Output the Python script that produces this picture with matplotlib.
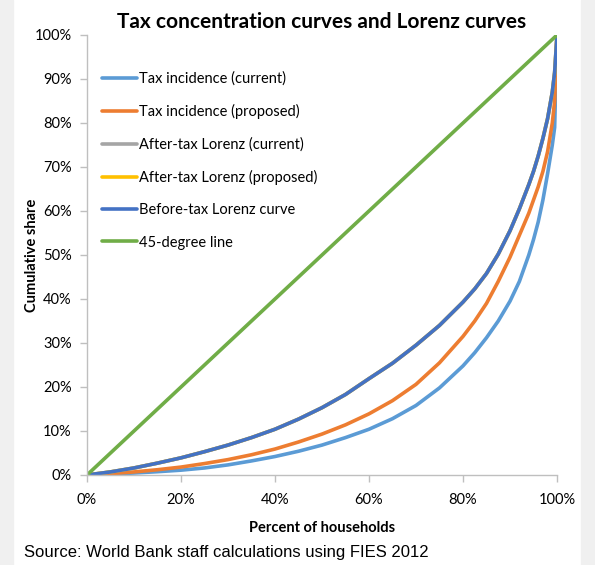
import matplotlib
matplotlib.use("Agg")
import matplotlib.pyplot as plt
from matplotlib.ticker import FuncFormatter

plt.rcParams['font.family'] = ['Lato', 'DejaVu Sans']

# Data (percent of households vs cumulative share, %)
x_pct = [0, 5, 10, 15, 20, 25, 30, 35, 40, 45, 50, 55, 60, 65, 70, 75, 80, 82.5, 85, 87.5,
         90, 92, 94, 95, 96, 97, 98, 99, 99.5, 100]
tax_current = [0, 0.2, 0.45, 0.75, 1.1, 1.6, 2.3, 3.2, 4.2, 5.4, 6.8, 8.5, 10.4, 12.8, 15.8, 19.8,
               24.8, 27.8, 31.2, 35.0, 39.5, 44.0, 50.0, 53.5, 57.5, 62.5, 68.5, 75.0, 79.0, 100]
tax_proposed = [0, 0.3, 0.7, 1.2, 1.8, 2.6, 3.5, 4.6, 5.9, 7.5, 9.3, 11.4, 13.9, 16.9, 20.6, 25.5,
                31.5, 35.0, 39.0, 44.0, 49.5, 54.5, 59.5, 62.5, 65.5, 69.0, 73.5, 80.0, 85.0, 100]
after_current = [0, 0.7, 1.6, 2.7, 3.9, 5.3, 6.8, 8.5, 10.4, 12.7, 15.3, 18.3, 21.9, 25.4, 29.5, 34.0,
                 39.3, 42.3, 45.8, 50.2, 55.5, 60.5, 66.0, 69.0, 72.5, 76.5, 81.0, 87.0, 91.5, 100]
after_proposed = [0, 0.7, 1.6, 2.7, 3.9, 5.3, 6.8, 8.5, 10.4, 12.7, 15.3, 18.3, 21.9, 25.4, 29.5, 34.0,
                  39.3, 42.3, 45.8, 50.2, 55.5, 60.5, 66.0, 69.0, 72.5, 76.5, 81.0, 87.0, 91.5, 100]
before_tax = [0, 0.7, 1.6, 2.7, 3.9, 5.3, 6.8, 8.5, 10.4, 12.7, 15.3, 18.3, 21.9, 25.4, 29.5, 34.0,
              39.3, 42.3, 45.8, 50.2, 55.5, 60.5, 66.0, 69.0, 72.5, 76.5, 81.0, 87.0, 91.5, 100]
diag_x = [0, 100]
diag_y = [0, 100]

labels = ["Tax incidence (current)", "Tax incidence (proposed)",
          "After-tax Lorenz (current)", "After-tax Lorenz (proposed)",
          "Before-tax Lorenz curve", "45-degree line"]
colors = ["#5B9BD5", "#ED7D31", "#A5A5A5", "#FFC000", "#4472C4", "#70AD47"]

fig = plt.figure(figsize=(5.95, 5.65), dpi=100)
fig.patch.set_facecolor("white")
# grey side strips
fig.add_artist(plt.Rectangle((0, 0), 13/595, 1, transform=fig.transFigure, color="#F0F0F0", zorder=0))
fig.add_artist(plt.Rectangle((581/595, 0), 14/595, 1, transform=fig.transFigure, color="#F0F0F0", zorder=0))

ax = fig.add_axes([87/595, 1 - 475/565, 470/595, 440/565])
lw = 2.6
series = [(x_pct, tax_current), (x_pct, tax_proposed), (x_pct, after_current),
          (x_pct, after_proposed), (x_pct, before_tax), (diag_x, diag_y)]
for (xs, ys), lab, c in zip(series, labels, colors):
    ax.plot(xs, ys, color=c, lw=lw, label=lab, solid_capstyle="round", solid_joinstyle="round")

ax.set_xlim(0, 100)
ax.set_ylim(0, 100)
ax.set_xticks(range(0, 101, 20))
ax.set_yticks(range(0, 101, 10))
fmt = FuncFormatter(lambda v, p: f"{int(v)}%")
ax.xaxis.set_major_formatter(fmt)
ax.yaxis.set_major_formatter(fmt)
for s in ["top", "right"]:
    ax.spines[s].set_visible(False)
for s in ["left", "bottom"]:
    ax.spines[s].set_color("#BFBFBF")
    ax.spines[s].set_linewidth(1)
ax.tick_params(axis="both", colors="#BFBFBF", labelcolor="black", labelsize=10.5, length=5, width=1)
ax.tick_params(axis="x", pad=8)
ax.tick_params(axis="y", pad=6)

ax.set_xlabel("Percent of households", fontsize=10.5, fontweight="bold", labelpad=10)
ax.set_ylabel("Cumulative share", fontsize=10.5, fontweight="bold", labelpad=-3)
fig.text(322/595, 1 - 22/565, "Tax concentration curves and Lorenz curves", ha="center", va="center",
         fontsize=15, fontweight="bold")

leg = ax.legend(loc="upper left", bbox_to_anchor=(0.02, 0.93), frameon=False, fontsize=10.5,
                handlelength=2.4, handletextpad=0.1, labelspacing=1.25, borderaxespad=0)

fig.text(24/595, 1 - 552/565, "Source: World Bank staff calculations using FIES 2012",
         family=["Liberation Sans", "DejaVu Sans"], fontsize=12, va="center", ha="left")

fig.savefig("out.png", dpi=100)
